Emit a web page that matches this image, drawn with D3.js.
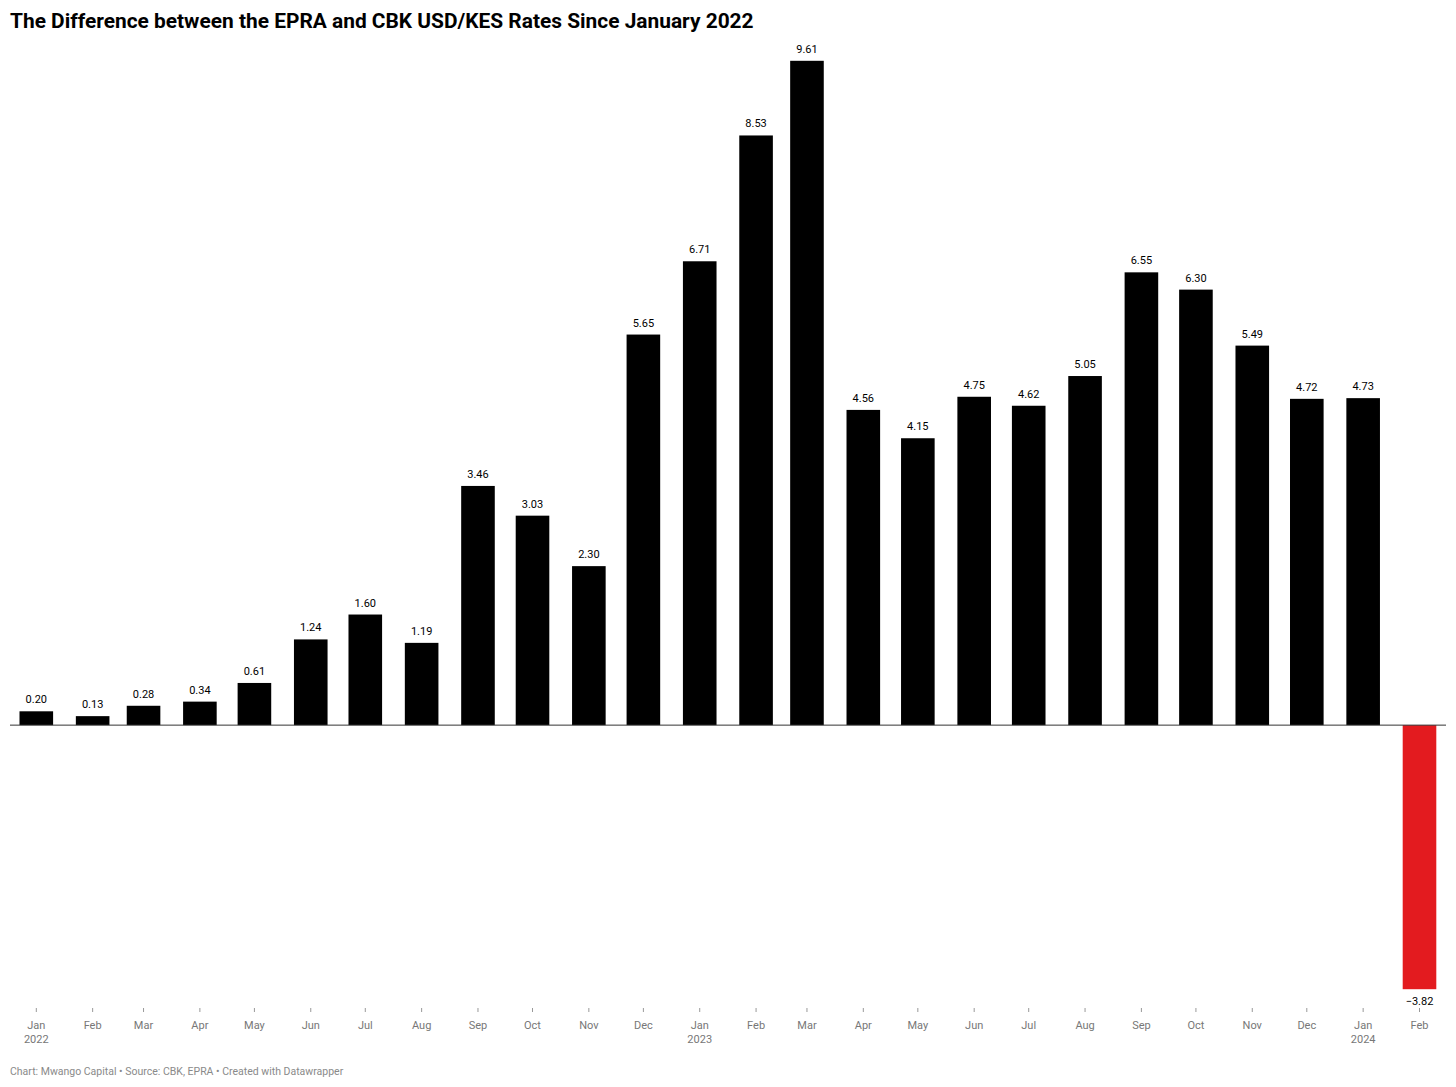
<!DOCTYPE html>
<html><head><meta charset="utf-8">
<script src="https://cdn.jsdelivr.net/npm/d3@7"></script>
<style>body{margin:0;background:#fff;font-family:Roboto,sans-serif;}</style>
</head><body>
<svg id="c" width="1456" height="1087"></svg>
<script>
const dates = ["2022-01","2022-02","2022-03","2022-04","2022-05","2022-06","2022-07","2022-08","2022-09","2022-10","2022-11","2022-12","2023-01","2023-02","2023-03","2023-04","2023-05","2023-06","2023-07","2023-08","2023-09","2023-10","2023-11","2023-12","2024-01","2024-02"];
const months = ["Jan","Feb","Mar","Apr","May","Jun","Jul","Aug","Sep","Oct","Nov","Dec","Jan","Feb","Mar","Apr","May","Jun","Jul","Aug","Sep","Oct","Nov","Dec","Jan","Feb"];
const years = ["2022","","","","","","","","","","","","2023","","","","","","","","","","","","2024",""];
const values = [0.20,0.13,0.28,0.34,0.61,1.24,1.60,1.19,3.46,3.03,2.30,5.65,6.71,8.53,9.61,4.56,4.15,4.75,4.62,5.05,6.55,6.30,5.49,4.72,4.73,-3.82];
const labels = ["0.20","0.13","0.28","0.34","0.61","1.24","1.60","1.19","3.46","3.03","2.30","5.65","6.71","8.53","9.61","4.56","4.15","4.75","4.62","5.05","6.55","6.30","5.49","4.72","4.73","−3.82"];

const svg = d3.select("#c");
const parse = d3.utcParse("%Y-%m");
const dt = dates.map(parse);
const idx = d3.range(values.length);
const x = d3.scaleUtc().domain([dt[0], dt[dt.length-1]]).range([36.3, 1419.5]);
const bw = 33.6;
const y = d3.scaleLinear().domain([-3.82, 9.61]).range([989.2, 60.8]);

svg.append("text").attr("x",10).attr("y",28).attr("font-size",20.9).attr("font-weight",700)
  .attr("fill","#000").text("The Difference between the EPRA and CBK USD/KES Rates Since January 2022");

svg.append("g").selectAll("rect").data(idx).join("rect")
  .attr("x", i => x(dt[i]) - bw/2).attr("width", bw)
  .attr("y", i => Math.min(y(values[i]), y(0)))
  .attr("height", i => Math.abs(y(values[i]) - y(0)))
  .attr("fill", i => values[i] < 0 ? "#e31b1f" : "#000");

svg.append("line").attr("x1",10).attr("x2",1446).attr("y1",y(0)).attr("y2",y(0))
  .attr("stroke","#333").attr("stroke-width",1);

svg.append("g").selectAll("text").data(idx).join("text")
  .attr("x", i => x(dt[i]))
  .attr("y", i => values[i] < 0 ? y(values[i]) + 16 : y(values[i]) - 8)
  .attr("text-anchor","middle").attr("font-size",11).attr("fill","#000")
  .text(i => labels[i]);

const ax = svg.append("g");
ax.selectAll("line").data(idx).join("line")
  .attr("x1", i => x(dt[i])).attr("x2", i => x(dt[i]))
  .attr("y1",1008).attr("y2",1012).attr("stroke","#999").attr("stroke-width",1);
ax.selectAll("text.m").data(idx).join("text").attr("class","m")
  .attr("x", i => x(dt[i])).attr("y",1029)
  .attr("text-anchor","middle").attr("font-size",11).attr("fill","#777").text(i => months[i]);
ax.selectAll("text.yr").data(idx.filter(i => years[i])).join("text").attr("class","yr")
  .attr("x", i => x(dt[i])).attr("y",1043)
  .attr("text-anchor","middle").attr("font-size",11).attr("fill","#777").text(i => years[i]);

svg.append("text").attr("x",10).attr("y",1075).attr("font-size",10.5).attr("fill","#8a8a8a")
  .text("Chart: Mwango Capital • Source: CBK, EPRA • Created with Datawrapper");
</script>
</body></html>
